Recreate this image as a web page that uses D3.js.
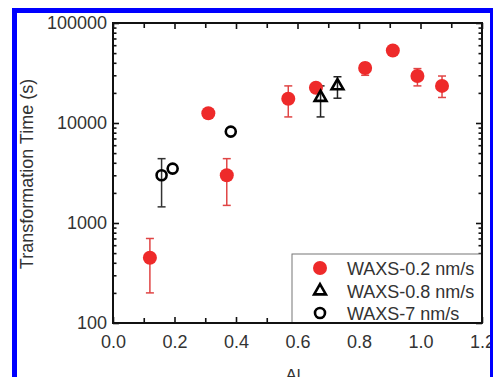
<!DOCTYPE html>
<html><head><meta charset="utf-8">
<script src="https://cdn.jsdelivr.net/npm/d3@7"></script>
<style>body{margin:0;background:#fff}svg{display:block}text{font-family:"Liberation Sans",Arial,sans-serif}</style>
</head><body>
<script>
// Data
const xTicks = [0.0, 0.2, 0.4, 0.6, 0.8, 1.0, 1.2];
const yTicks = [100, 1000, 10000, 100000];
const seriesNames = ["WAXS-0.2 nm/s", "WAXS-0.8 nm/s", "WAXS-7 nm/s"];

const waxs02X  = [0.12, 0.31, 0.37, 0.57, 0.66, 0.82, 0.91, 0.99, 1.07];
const waxs02Y  = [450, 12500, 3000, 17500, 22500, 35500, 53000, 29500, 23500];
const waxs02Lo = [200, null, 1500, 11500, null, 30000, null, 23500, 18000];
const waxs02Hi = [700, null, 4400, 23500, null, 40000, null, 35000, 29500];

const waxs08X  = [0.675, 0.73];
const waxs08Y  = [18000, 23500];
const waxs08Lo = [11500, 17700];
const waxs08Hi = [23500, 29000];

const waxs7X  = [0.158, 0.194, 0.383];
const waxs7Y  = [3000, 3500, 8200];
const waxs7Lo = [1450, null, null];
const waxs7Hi = [4400, null, null];

const W = 493, H = 377;
const L = 113, R = 482, T = 23, B = 323;
const svg = d3.select("body").append("svg").attr("width", W).attr("height", H);

const x = d3.scaleLinear().domain([0, 1.2]).range([L, R]);
const y = d3.scaleLog().domain([100, 100000]).range([B, T]);

const red = "#ee2a2a";

// minor ticks
const yMinor = [];
for (let d = 100; d < 100000; d *= 10) for (let k = 2; k <= 9; k++) yMinor.push(d * k);
const xMinor = d3.range(0.1, 1.2, 0.2);

// axes with inward ticks
const axB = svg.append("g").attr("transform", `translate(0,${B})`)
  .call(d3.axisBottom(x).tickValues(xTicks).tickFormat(d3.format(".1f")).tickSizeInner(-6).tickSizeOuter(0).tickPadding(12));
svg.append("g").attr("transform", `translate(0,${B})`)
  .call(d3.axisBottom(x).tickValues(xMinor).tickFormat("").tickSizeInner(-5).tickSizeOuter(0));
svg.append("g").attr("transform", `translate(0,${T})`)
  .call(d3.axisTop(x).tickValues(xTicks).tickFormat("").tickSizeInner(-6).tickSizeOuter(0));
svg.append("g").attr("transform", `translate(0,${T})`)
  .call(d3.axisTop(x).tickValues(xMinor).tickFormat("").tickSizeInner(-5).tickSizeOuter(0));

const axL = svg.append("g").attr("transform", `translate(${L},0)`)
  .call(d3.axisLeft(y).tickValues(yTicks).tickFormat(d3.format("d")).tickSizeInner(-6).tickSizeOuter(0).tickPadding(6));
svg.append("g").attr("transform", `translate(${L},0)`)
  .call(d3.axisLeft(y).tickValues(yMinor).tickFormat("").tickSizeInner(-3.5).tickSizeOuter(0));
svg.append("g").attr("transform", `translate(${R},0)`)
  .call(d3.axisRight(y).tickValues(yTicks).tickFormat("").tickSizeInner(-6).tickSizeOuter(0));
svg.append("g").attr("transform", `translate(${R},0)`)
  .call(d3.axisRight(y).tickValues(yMinor).tickFormat("").tickSizeInner(-3.5).tickSizeOuter(0));

svg.selectAll(".domain").remove();
svg.selectAll(".tick line").attr("stroke", "#111").attr("stroke-width", 1.6);
svg.selectAll(".tick text").attr("font-size", 18).attr("fill", "#333").attr("font-family", '"Liberation Sans",Arial,sans-serif');

// frame
svg.append("rect").attr("x", L).attr("y", T).attr("width", R - L).attr("height", B - T)
  .attr("fill", "none").attr("stroke", "#111").attr("stroke-width", 2);

// axis labels
svg.append("text").attr("transform", `translate(33,${(78 + 270) / 2}) rotate(-90)`)
  .attr("text-anchor", "middle").attr("font-size", 18).attr("fill", "#333").text("Transformation Time (s)");
svg.append("text").attr("x", 293).attr("y", 381).attr("text-anchor", "middle")
  .attr("font-size", 17).attr("font-family", '"Liberation Serif",serif').attr("fill", "#333").text("Al");

// error bars
function errBars(xs, lo, hi, color) {
  const g = svg.append("g").attr("stroke", color).attr("stroke-width", 1.5).attr("fill", "none");
  xs.forEach((xv, i) => {
    if (lo[i] == null) return;
    const cx = x(xv);
    g.append("line").attr("x1", cx).attr("x2", cx).attr("y1", y(lo[i])).attr("y2", y(hi[i]));
    g.append("line").attr("x1", cx - 4).attr("x2", cx + 4).attr("y1", y(lo[i])).attr("y2", y(lo[i]));
    g.append("line").attr("x1", cx - 4).attr("x2", cx + 4).attr("y1", y(hi[i])).attr("y2", y(hi[i]));
  });
}
errBars(waxs02X, waxs02Lo, waxs02Hi, "#e04545");
errBars(waxs08X, waxs08Lo, waxs08Hi, "#222");
errBars(waxs7X, waxs7Lo, waxs7Hi, "#333");

// markers
svg.append("g").selectAll("circle").data(waxs02X).join("circle")
  .attr("cx", d => x(d)).attr("cy", (d, i) => y(waxs02Y[i])).attr("r", 7).attr("fill", red);
const tri = d3.symbol().type(d3.symbolTriangle).size(60);
svg.append("g").selectAll("path").data(waxs08X).join("path")
  .attr("d", tri).attr("transform", (d, i) => `translate(${x(d)},${y(waxs08Y[i])})`)
  .attr("fill", "none").attr("stroke", "#000").attr("stroke-width", 2.6);
svg.append("g").selectAll("circle").data(waxs7X).join("circle")
  .attr("cx", d => x(d)).attr("cy", (d, i) => y(waxs7Y[i])).attr("r", 5)
  .attr("fill", "none").attr("stroke", "#000").attr("stroke-width", 2.6);

// legend
const lg = svg.append("g");
lg.append("rect").attr("x", 292).attr("y", 254).attr("width", R - 292).attr("height", B - 254)
  .attr("fill", "#fff").attr("stroke", "#777").attr("stroke-width", 1);
const ly = [268, 291, 313];
lg.append("circle").attr("cx", 320).attr("cy", ly[0]).attr("r", 7).attr("fill", red);
lg.append("path").attr("d", tri).attr("transform", `translate(320,${ly[1]})`)
  .attr("fill", "none").attr("stroke", "#000").attr("stroke-width", 2.6);
lg.append("circle").attr("cx", 320).attr("cy", ly[2]).attr("r", 5)
  .attr("fill", "none").attr("stroke", "#000").attr("stroke-width", 2.6);
seriesNames.forEach((n, i) => {
  lg.append("text").attr("x", 347).attr("y", ly[i] + 6.5).attr("font-size", 18).attr("fill", "#333").text(n);
});
// redraw axis frame edge over legend
svg.append("line").attr("x1", R).attr("x2", R).attr("y1", T).attr("y2", B).attr("stroke", "#111").attr("stroke-width", 2);
svg.append("line").attr("x1", L).attr("x2", R).attr("y1", B).attr("y2", B).attr("stroke", "#111").attr("stroke-width", 2);

// blue outer frame
svg.append("rect").attr("x", 14.5).attr("y", 10.5).attr("width", 478).attr("height", 420)
  .attr("fill", "none").attr("stroke", "#0000ff").attr("stroke-width", 5);
</script>
</body></html>
